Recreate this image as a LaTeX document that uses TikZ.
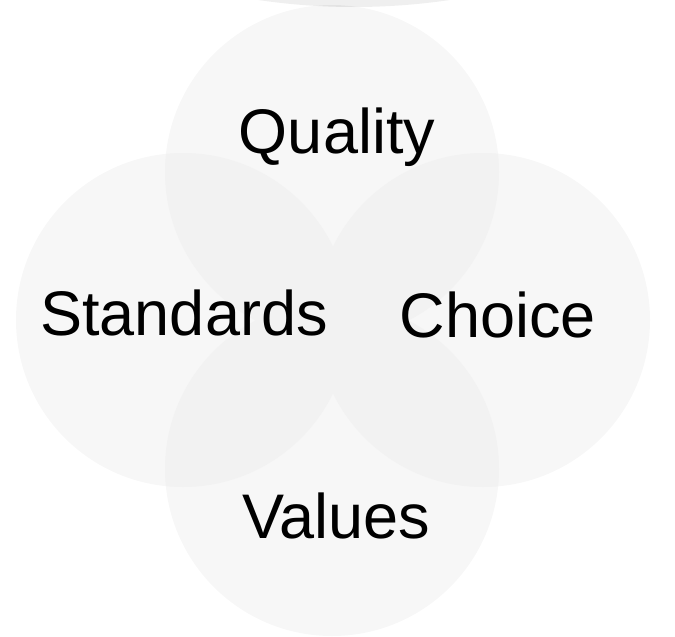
\documentclass[tikz,border=0pt]{standalone}
\usepackage{fontspec}
\setmainfont{Liberation Sans}
\definecolor{petalfill}{HTML}{F7F7F7}
\definecolor{lensfill}{HTML}{F2F2F2}
\definecolor{topfill}{HTML}{EFEFEF}
\begin{document}
\begin{tikzpicture}[x=1pt,y=-1pt,
  petal/.style={fill=petalfill,draw=none},
  lens/.style={fill=lensfill,draw=none},
  lbl/.style={font=\fontsize{63}{63}\selectfont,anchor=base,inner sep=0pt,text=black}]
\useasboundingbox (0,0) rectangle (675,637);
\begin{scope}
\clip (0,0) rectangle (675,637);
\fill[fill=topfill] (354,-643) circle (650);
\end{scope}
\def\ctop{(332,172) circle (167)}
\def\cleft{(183,320) circle (167)}
\def\cright{(483,320) circle (167)}
\def\cbot{(332,469) circle (167)}
\fill[petal] \ctop;
\fill[petal] \cleft;
\fill[petal] \cright;
\fill[petal] \cbot;
\begin{scope}\clip \ctop; \fill[lens] \cleft; \fill[lens] \cright; \fill[lens] \cbot; \end{scope}
\begin{scope}\clip \cbot; \fill[lens] \cleft; \fill[lens] \cright; \end{scope}
\begin{scope}\clip \cleft; \fill[lens] \cright; \end{scope}
\begin{scope}
\clip (0,0) rectangle (675,637);
\clip (354,-643) circle (650);
\fill[fill=topfill!95!black] \ctop;
\end{scope}
\node[lbl] (quality) at (337,153) {Quality};
\node[lbl] (standards) at (184,335) {Standards};
\node[lbl] (choice) at (498,337) {Choice};
\node[lbl] (values) at (336,538) {Values};
\end{tikzpicture}
\end{document}
